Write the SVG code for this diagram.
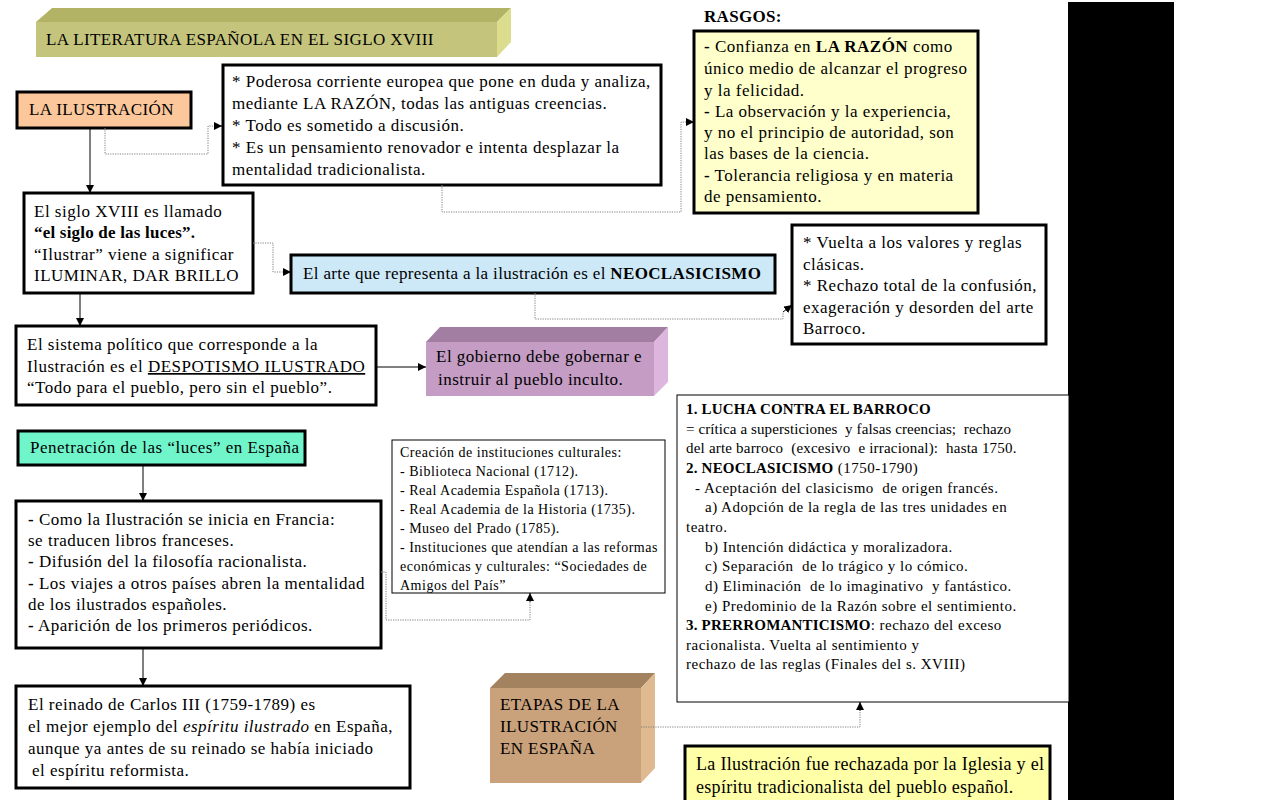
<svg xmlns="http://www.w3.org/2000/svg" width="1280" height="800" viewBox="0 0 1280 800">
<style>
.t{font-family:"Liberation Serif","Times New Roman",serif;font-size:17px;letter-spacing:0.5px;fill:#000}
.s{font-size:14px}
.m{font-size:15px;white-space:pre}
.b{font-weight:bold}
.box{fill:#fff;stroke:#000;stroke-width:3}
.thin{fill:#fff;stroke:#000;stroke-width:1}
.solid{fill:none;stroke:#000;stroke-width:1}
.dot{fill:none;stroke:#7f7f7f;stroke-width:1;stroke-dasharray:1.2 1.2}
</style>
<defs>
<marker id="ah" viewBox="0 0 10 10" refX="10" refY="5" markerWidth="8" markerHeight="8" markerUnits="userSpaceOnUse" orient="auto">
<path d="M0,0 L10,5 L0,10 z" fill="#000"/>
</marker>
</defs>
<rect width="1280" height="800" fill="#fff"/>
<rect x="1068" y="2" width="106" height="798" fill="#000"/>

<g id="title">
<polygon points="36,22 52,8 511,8 497,22" fill="#b3b366"/>
<polygon points="497,22 511,8 511,42 497,57" fill="#dcdc8e"/>
<rect x="36" y="22" width="461" height="35" fill="#c4c47c"/>
<text class="t" x="46" y="45" style="letter-spacing:0.4px">LA LITERATURA ESPAÑOLA EN EL SIGLO XVIII</text>
</g>

<g id="ilustracion">
<rect class="box" x="17" y="92" width="174" height="36" style="fill:#fbc79b"/>
<text class="t" x="29" y="115" style="letter-spacing:0.4px">LA ILUSTRACIÓN</text>
</g>

<g id="poderosa">
<rect class="box" x="223" y="65" width="438" height="120"/>
<text class="t" x="232" y="87">* Poderosa corriente europea que pone en duda y analiza,</text>
<text class="t" x="232" y="109">mediante LA RAZÓN, todas las antiguas creencias.</text>
<text class="t" x="232" y="131">* Todo es sometido a discusión.</text>
<text class="t" x="232" y="153">* Es un pensamiento renovador e intenta desplazar la</text>
<text class="t" x="232" y="175">mentalidad tradicionalista.</text>
</g>

<g id="rasgos">
<text class="t b" x="704" y="22" style="letter-spacing:0.3px">RASGOS:</text>
<rect class="box" x="694" y="31" width="284" height="182" style="fill:#ffffcc"/>
<text class="t" x="704" y="52"><tspan class="b">-</tspan> Confianza en <tspan class="b">LA RAZÓN</tspan> como</text>
<text class="t" x="704" y="74">único medio de alcanzar el progreso</text>
<text class="t" x="704" y="96">y la felicidad.</text>
<text class="t" x="704" y="117"><tspan class="b">-</tspan> La observación y la experiencia,</text>
<text class="t" x="704" y="138">y no el principio de autoridad, son</text>
<text class="t" x="704" y="159">las bases de la ciencia.</text>
<text class="t" x="704" y="181"><tspan class="b">-</tspan> Tolerancia religiosa y en materia</text>
<text class="t" x="704" y="202">de pensamiento.</text>
</g>

<g id="siglo">
<rect class="box" x="24" y="193" width="229" height="100"/>
<text class="t" x="34" y="217">El siglo XVIII es llamado</text>
<text class="t b" x="34" y="238" style="letter-spacing:0.2px">“el siglo de las luces”.</text>
<text class="t" x="34" y="260">“Ilustrar” viene a significar</text>
<text class="t" x="34" y="281">ILUMINAR, DAR BRILLO</text>
</g>

<g id="arte">
<rect class="box" x="291" y="255" width="484" height="38" style="fill:#cde9f8"/>
<text class="t" x="303" y="279" style="letter-spacing:0.35px">El arte que representa a la ilustración es el <tspan class="b">NEOCLASICISMO</tspan></text>
</g>

<g id="vuelta">
<rect class="box" x="792" y="225" width="254" height="119"/>
<text class="t" x="803" y="248">* Vuelta a los valores y reglas</text>
<text class="t" x="803" y="270">clásicas.</text>
<text class="t" x="803" y="291">* Rechazo total de la confusión,</text>
<text class="t" x="803" y="313">exageración y desorden del arte</text>
<text class="t" x="803" y="334">Barroco.</text>
</g>

<g id="sistema">
<rect class="box" x="16" y="326" width="360" height="79"/>
<text class="t" x="27" y="350">El sistema político que corresponde a la</text>
<text class="t" x="27" y="372">Ilustración es el <tspan text-decoration="underline">DESPOTISMO ILUSTRADO</tspan></text>
<text class="t" x="27" y="393">“Todo para el pueblo, pero sin el pueblo”.</text>
</g>

<g id="gobierno">
<polygon points="426,342 440,327 668,327 654,342" fill="#a27ea2"/>
<polygon points="654,342 668,327 668,382 654,396" fill="#dcb6dc"/>
<rect x="426" y="342" width="228" height="54" fill="#c49cc4"/>
<text class="t" x="436" y="362">El gobierno debe gobernar e</text>
<text class="t" x="438" y="385">instruir al pueblo inculto.</text>
</g>

<g id="penetracion">
<rect class="box" x="18" y="431" width="287" height="34" style="fill:#70f5cb"/>
<text class="t" x="30" y="453">Penetración de las “luces” en España</text>
</g>

<g id="como">
<rect class="box" x="16" y="501" width="365" height="147"/>
<text class="t" x="28" y="525"><tspan class="b">-</tspan> Como la Ilustración se inicia en Francia:</text>
<text class="t" x="28" y="546">se traducen libros franceses.</text>
<text class="t" x="28" y="567"><tspan class="b">-</tspan> Difusión del la filosofía racionalista.</text>
<text class="t" x="28" y="589"><tspan class="b">-</tspan> Los viajes a otros países abren la mentalidad</text>
<text class="t" x="28" y="610">de los ilustrados españoles.</text>
<text class="t" x="28" y="631"><tspan class="b">-</tspan> Aparición de los primeros periódicos.</text>
</g>

<g id="instituciones">
<rect class="thin" x="392" y="440" width="273" height="153"/>
<text class="t s" x="400" y="457">Creación de instituciones culturales:</text>
<text class="t s" x="400" y="476">- Biblioteca Nacional (1712).</text>
<text class="t s" x="400" y="495">- Real Academia Española (1713).</text>
<text class="t s" x="400" y="514">- Real Academia de la Historia (1735).</text>
<text class="t s" x="400" y="533">- Museo del Prado (1785).</text>
<text class="t s" x="400" y="552">- Instituciones que atendían a las reformas</text>
<text class="t s" x="400" y="571">económicas y culturales: “Sociedades de</text>
<text class="t s" x="400" y="590">Amigos del País”</text>
</g>

<g id="carlos">
<rect class="box" x="16" y="686" width="394" height="102"/>
<text class="t" x="28" y="710">El reinado de Carlos III (1759-1789) es</text>
<text class="t" x="28" y="732">el mejor ejemplo del <tspan font-style="italic">espíritu ilustrado</tspan> en España,</text>
<text class="t" x="28" y="754">aunque ya antes de su reinado se había iniciado</text>
<text class="t" x="32" y="776">el espíritu reformista.</text>
</g>

<g id="etapas-lista">
<rect class="thin" x="677" y="395" width="392" height="307"/>
<text class="t m b" x="686" y="414" style="letter-spacing:0.2px">1. LUCHA CONTRA EL BARROCO</text>
<text class="t m" x="686" y="434" style="letter-spacing:0.1px">= crítica a supersticiones  y falsas creencias;  rechazo</text>
<text class="t m" x="686" y="453" style="letter-spacing:0.2px">del arte barroco  (excesivo  e irracional):  hasta 1750.</text>
<text class="t m" x="686" y="473"><tspan class="b" style="letter-spacing:0.2px">2. NEOCLASICISMO</tspan> (1750-1790)</text>
<text class="t m" x="695" y="493">- Aceptación del clasicismo  de origen francés.</text>
<text class="t m" x="705" y="512">a) Adopción de la regla de las tres unidades en</text>
<text class="t m" x="686" y="532">teatro.</text>
<text class="t m" x="705" y="552">b) Intención didáctica y moralizadora.</text>
<text class="t m" x="705" y="571">c) Separación  de lo trágico y lo cómico.</text>
<text class="t m" x="705" y="591">d) Eliminación  de lo imaginativo  y fantástico.</text>
<text class="t m" x="705" y="611">e) Predominio de la Razón sobre el sentimiento.</text>
<text class="t m" x="686" y="630"><tspan class="b" style="letter-spacing:0.2px">3. PRERROMANTICISMO</tspan>: rechazo del exceso</text>
<text class="t m" x="686" y="650">racionalista. Vuelta al sentimiento y</text>
<text class="t m" x="686" y="669">rechazo de las reglas (Finales del s. XVIII)</text>
</g>

<g id="etapas">
<polygon points="490,688 505,673 655,673 641,688" fill="#a3825f"/>
<polygon points="641,688 655,673 655,768 641,783" fill="#dfb98f"/>
<rect x="490" y="688" width="151" height="95" fill="#c9a17a"/>
<text class="t" x="500" y="710" style="letter-spacing:0.4px">ETAPAS DE LA</text>
<text class="t" x="500" y="732" style="letter-spacing:0.4px">ILUSTRACIÓN</text>
<text class="t" x="500" y="754" style="letter-spacing:0.4px">EN ESPAÑA</text>
</g>

<g id="rechazada">
<rect class="box" x="685" y="746" width="365" height="56" style="fill:#ffffa8"/>
<text class="t" x="696" y="770" style="font-size:18px;letter-spacing:0.3px">La Ilustración fue rechazada por la Iglesia y el</text>
<text class="t" x="696" y="793" style="font-size:18px;letter-spacing:0.3px">espíritu tradicionalista del pueblo español.</text>
</g>

<g id="connectors">
<path class="dot" d="M105,128 V154 H208 V126 H214"/>
<path class="solid" d="M214,126 H222" marker-end="url(#ah)"/>
<path class="solid" d="M90,128 V193" marker-end="url(#ah)"/>
<path class="dot" d="M442,185 V212 H681 V122 H686"/>
<path class="solid" d="M686,122 H694" marker-end="url(#ah)"/>
<path class="dot" d="M253,243 H273 V272 H283"/>
<path class="solid" d="M283,272 H291" marker-end="url(#ah)"/>
<path class="dot" d="M535,293 V319 H783 V312"/>
<path class="solid" d="M783,312 L792,305" marker-end="url(#ah)"/>
<path class="solid" d="M80,293 V326" marker-end="url(#ah)"/>
<path class="solid" d="M376,367 H426" marker-end="url(#ah)"/>
<path class="solid" d="M143,465 V501" marker-end="url(#ah)"/>
<path class="dot" d="M381,572 H386 V620 H530 V602"/>
<path class="solid" d="M530,602 V593" marker-end="url(#ah)"/>
<path class="solid" d="M143,648 V686" marker-end="url(#ah)"/>
<path class="dot" d="M641,727 H860 V711"/>
<path class="solid" d="M860,711 V702" marker-end="url(#ah)"/>
</g>
</svg>
